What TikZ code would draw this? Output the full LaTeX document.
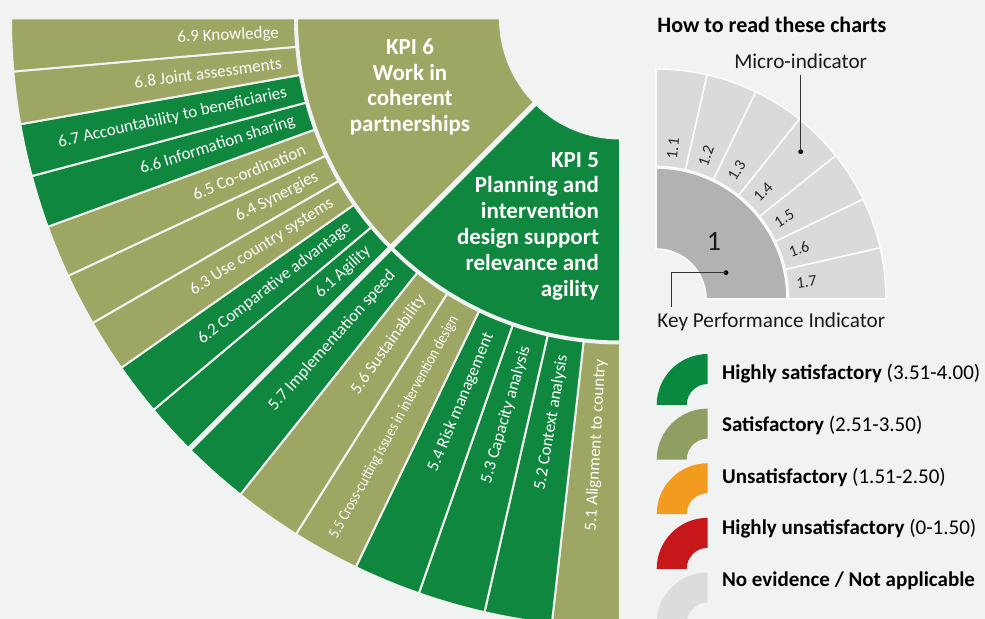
\documentclass[tikz,border=0pt]{standalone}
\usepackage{fontspec}
\setmainfont{Carlito}
\definecolor{bg}{RGB}{241,243,242}
\definecolor{hsgreen}{RGB}{16,135,62}
\definecolor{satolive}{RGB}{157,166,99}
\definecolor{lgreen}{RGB}{8,137,63}
\definecolor{lolive}{RGB}{143,158,98}
\definecolor{lorange}{RGB}{243,155,31}
\definecolor{lred}{RGB}{200,23,27}
\definecolor{lgrey}{RGB}{220,220,220}
\definecolor{kpigrey}{RGB}{178,178,178}
\definecolor{microgrey}{RGB}{218,218,218}
\begin{document}
\begin{tikzpicture}[x=0.5pt, y=0.5pt,
    seg/.style={draw=bg, line width=1pt},
    keyseg/.style={draw=white!70!bg, line width=0.8pt},
    micro/.style={anchor=east, inner sep=0pt, text=white, font=\fontsize{8.5}{10}\selectfont},
    keymicro/.style={anchor=west, inner sep=0pt, text=black!85, font=\fontsize{8}{9}\selectfont},
    kpi/.style={text=white, font=\bfseries\fontsize{11.5}{12.9}\selectfont},
    note/.style={text=black!90, font=\fontsize{10.6}{12}\selectfont},
    pointer/.style={draw=black!80, line width=0.6pt},
    legtext/.style={anchor=west, inner sep=0pt, text=black, font=\fontsize{10.5}{12}\selectfont}]
  \useasboundingbox (0,0) rectangle (985,-619);
  \fill[bg] (0,0) rectangle (985,-619);
  \clip (0,0) rectangle (985,-619);

  \begin{scope}[shift={(620,-18.5)}]
    \path[seg, fill=satolive] (180:120) arc[start angle=180, end angle=225, radius=120]
      -- (225:323) arc[start angle=225, end angle=180, radius=323] -- cycle;
    \path[seg, fill=hsgreen] (225:120) arc[start angle=225, end angle=270, radius=120]
      -- (270:323) arc[start angle=270, end angle=225, radius=323] -- cycle;

    \foreach \c/\t [count=\i] in {hsgreen/6.1 Agility, hsgreen/6.2 Comparative advantage,
        satolive/6.3 Use country systems, satolive/6.4 Synergies, satolive/6.5 Co-ordination,
        hsgreen/6.6 Information sharing, hsgreen/6.7 Accountability to beneficiaries,
        satolive/6.8 Joint assessments, satolive/6.9 Knowledge} {
      \pgfmathsetmacro\a{225-5*\i}
      \pgfmathsetmacro\b{\a+5}
      \pgfmathsetmacro\m{\a+2.5}
      \path[seg, fill=\c] (\a:325) arc[start angle=\a, end angle=\b, radius=325]
        -- (\b:609) arc[start angle=\b, end angle=\a, radius=609] -- cycle;
      \node[micro, rotate=\m-180] (six\i) at (\m:341) {\t};
    }

    \foreach \c/\t [count=\i] in {satolive/5.1 Alignment to country, hsgreen/5.2 Context analysis,
        hsgreen/5.3 Capacity analysis, hsgreen/5.4 Risk management,
        satolive/{\scalebox{0.8}[0.94]{5.5 Cross-cutting issues in intervention design}},
        satolive/5.6 Sustainability, hsgreen/5.7 Implementation speed} {
      \pgfmathsetmacro\a{270-45/7*\i}
      \pgfmathsetmacro\b{\a+45/7}
      \pgfmathsetmacro\m{\a+45/14}
      \path[seg, fill=\c] (\a:325) arc[start angle=\a, end angle=\b, radius=325]
        -- (\b:609) arc[start angle=\b, end angle=\a, radius=609] -- cycle;
      \node[micro, rotate=\m-180] (five\i) at (\m:341) {\t};
    }
    \draw[bg, line width=2.5pt] (225:115) -- (225:615);
  \end{scope}

  \node[kpi, align=center] (kpisix) at (410,-87) {KPI 6\\Work in\\coherent\\partnerships};
  \node[kpi, align=right, anchor=east] (kpifive) at (606,-226)
    {KPI 5\\Planning and\\intervention\\design support\\relevance and\\agility};

  \node[anchor=west, inner sep=0pt, font=\bfseries\fontsize{11}{13}\selectfont] (howto) at (657,-25) {How to read these charts};

  \begin{scope}[shift={(656,-299)}]
    \path[keyseg, fill=kpigrey] (90:50) arc[start angle=90, end angle=0, radius=50]
      -- (0:131) arc[start angle=0, end angle=90, radius=131] -- cycle;
    \foreach \i in {1,...,7} {
      \pgfmathsetmacro\a{90-90/7*\i}
      \pgfmathsetmacro\b{\a+90/7}
      \pgfmathsetmacro\m{\a+45/7}
      \path[keyseg, fill=microgrey] (\a:132.5) arc[start angle=\a, end angle=\b, radius=132.5]
        -- (\b:230) arc[start angle=\b, end angle=\a, radius=230] -- cycle;
      \node[keymicro, rotate=\m] (one\i) at (\m:141) {1.\i};
    }
    \node[text=black!90, font=\fontsize{14}{16}\selectfont] (one) at (58,58) {1};
  \end{scope}

  \coordinate (mdot) at (800.7,-151.7);
  \coordinate (kdot) at (726,-272.7);
  \coordinate (kfoot) at (671.7,-307);
  \node[note] (microlabel) at (800.7,-61) {Micro-indicator};
  \node[note] (kpilabel) at (771.3,-321.7) {Key Performance Indicator};
  \fill[black] (mdot) circle[radius=2.4];
  \fill[black] (kdot) circle[radius=2.4];
  \draw[pointer] (microlabel.south) -- (mdot);
  \draw[pointer] (kdot) -| (kfoot);

  \foreach \c/\b/\r [count=\i from 0] in {lgreen/Highly satisfactory/(3.51-4.00),
      lolive/Satisfactory/(2.51-3.50), lorange/Unsatisfactory/(1.51-2.50),
      lred/Highly unsatisfactory/(0-1.50), lgrey/{No evidence / Not applicable}/{}} {
    \pgfmathsetmacro\y{-405-54.6*\i}
    \fill[\c] (707.7,\y) ++(180:51) arc[start angle=180, end angle=90, radius=51]
      -- ++(0,-30) arc[start angle=90, end angle=180, radius=21] -- cycle;
    \node[legtext] (leg\i) at (721.7,{-373.3-51.85*\i}) {\textbf{\b} \r};
  }
\end{tikzpicture}
\end{document}
